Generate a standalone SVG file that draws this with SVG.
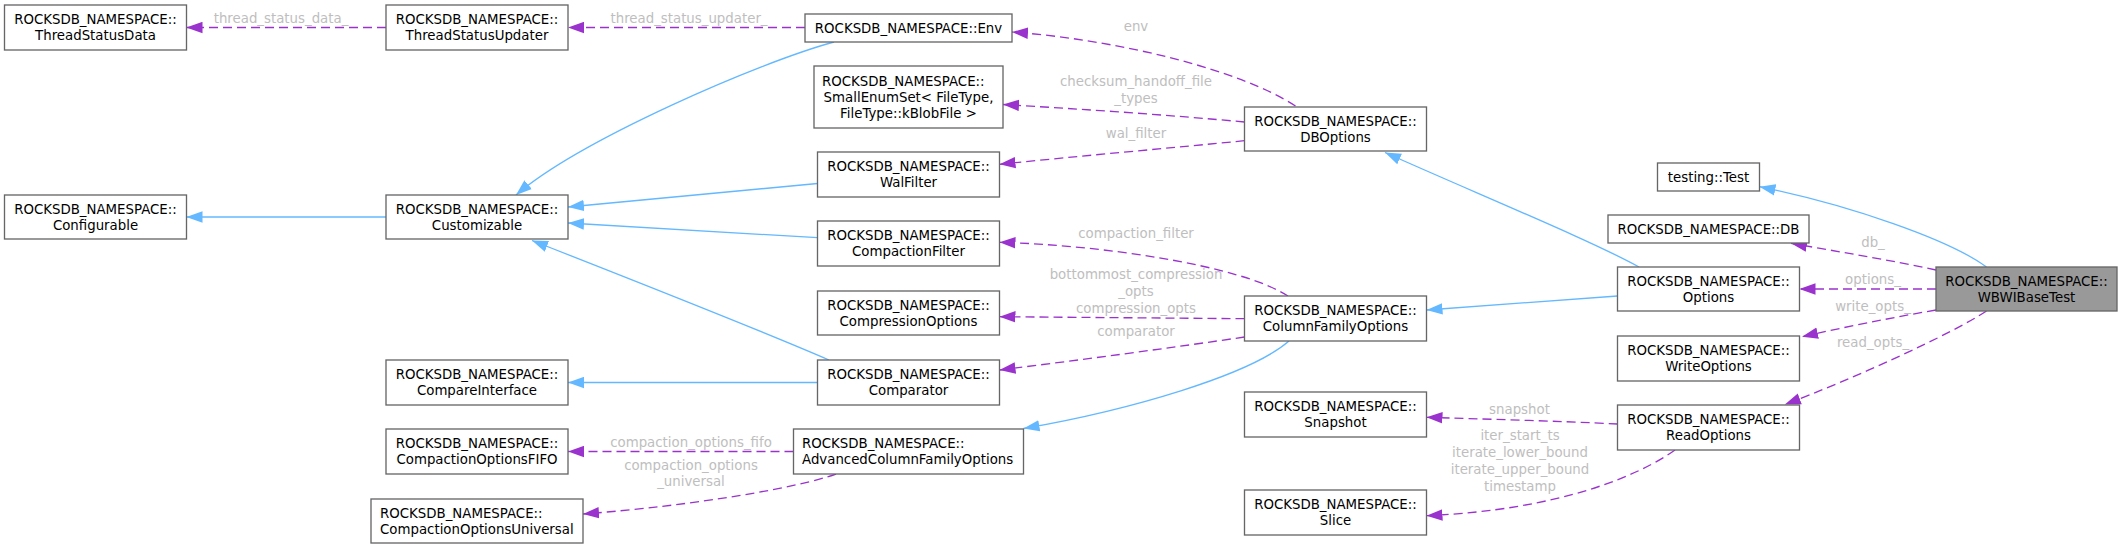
<svg xmlns="http://www.w3.org/2000/svg" width="2123" height="549" viewBox="0 0 2123 549">
<defs>
<style>
.n rect{fill:#ffffff;stroke:#666666;stroke-width:1.33}
.n.main rect{fill:#999999}
text{font-family:"DejaVu Sans","Liberation Sans",sans-serif;font-size:13.33px;fill:#000000}
.n text{text-anchor:middle}
.n text.l{text-anchor:start}
.lbl{fill:#bebebe;text-anchor:middle}
.inh{fill:none;stroke:#63b8ff;stroke-width:1.33;marker-end:url(#ab)}
.use{fill:none;stroke:#9a32cd;stroke-width:1.33;stroke-dasharray:9,5;marker-end:url(#ap)}
</style>
<marker id="ab" markerUnits="userSpaceOnUse" markerWidth="16" markerHeight="12" refX="14" refY="5" orient="auto" viewBox="0 0 14 10"><path d="M0,0 L14,5 L0,10 z" fill="#63b8ff"/></marker>
<marker id="ap" markerUnits="userSpaceOnUse" markerWidth="16" markerHeight="12" refX="14" refY="5" orient="auto" viewBox="0 0 14 10"><path d="M0,0 L14,5 L0,10 z" fill="#9a32cd"/></marker>
</defs>
<rect width="2123" height="549" fill="#ffffff"/>
<g id="connectors">
<path class="use" d="M386,27.5 L186.5,27.5"/>
<text class="lbl" x="281" y="23">thread_status_data_</text>
<path class="use" d="M805,27.5 L568,27.5"/>
<text class="lbl" x="689" y="23">thread_status_updater_</text>
<path class="inh" d="M834,42 C760,62 580,140 516,195"/>
<path class="inh" d="M817.5,183.5 L568,207"/>
<path class="inh" d="M817.5,237.7 L568,223"/>
<path class="inh" d="M829,360 C760,330 620,275 532,240.5"/>
<path class="inh" d="M817.5,382.5 L568,382.5"/>
<path class="inh" d="M386,217 L186.5,217"/>
<path class="use" d="M793.5,451.5 L568,451.5"/>
<text class="lbl" x="691" y="446.7">compaction_options_fifo</text>
<path class="use" d="M836,474 C800,487 700,505 583,514"/>
<text class="lbl" x="691" y="469.5">compaction_options</text>
<text class="lbl" x="691" y="486">_universal</text>
<path class="inh" d="M1289,341 C1250,375 1130,410 1023.5,428.5"/>
<path class="use" d="M1295.5,106 C1240,70 1120,40 1012,32"/>
<text class="lbl" x="1136" y="31">env</text>
<path class="use" d="M1244.5,122 C1170,115 1080,109 1003,104.5"/>
<text class="lbl" x="1136" y="86">checksum_handoff_file</text>
<text class="lbl" x="1136" y="102.7">_types</text>
<path class="use" d="M1244.5,140.7 C1170,148 1080,156 999.5,164.3"/>
<text class="lbl" x="1136" y="138.3">wal_filter</text>
<path class="use" d="M1288,296 C1240,265 1100,245 999.5,242.3"/>
<text class="lbl" x="1136" y="238.3">compaction_filter</text>
<path class="use" d="M1244.5,318.7 L999.5,316.7"/>
<text class="lbl" x="1136" y="278.7">bottommost_compression</text>
<text class="lbl" x="1136" y="295.5">_opts</text>
<text class="lbl" x="1136" y="312.5">compression_opts</text>
<path class="use" d="M1244.5,337 C1170,348 1080,360 999.5,370"/>
<text class="lbl" x="1136" y="336">comparator</text>
<path class="inh" d="M1639,267 C1590,240 1480,195 1385,152.5"/>
<path class="inh" d="M1617.5,296 L1426.5,310"/>
<path class="inh" d="M1986.5,267 C1950,240 1850,205 1759.5,186.7"/>
<path class="use" d="M1936,270 C1890,260 1840,252 1791,243.3"/>
<text class="lbl" x="1873" y="246.5">db_</text>
<path class="use" d="M1936,289 L1799.5,289"/>
<text class="lbl" x="1873" y="284">options_</text>
<path class="use" d="M1936,310 C1890,318 1845,327 1802,336.7"/>
<text class="lbl" x="1873" y="310.5">write_opts_</text>
<path class="use" d="M1986.5,311 C1950,335 1850,380 1784.8,404.5"/>
<text class="lbl" x="1873" y="347">read_opts_</text>
<path class="use" d="M1617.5,424 C1560,421 1480,419 1426.5,417.3"/>
<text class="lbl" x="1519.5" y="414">snapshot</text>
<path class="use" d="M1675,450 C1640,475 1560,510 1426.5,515.7"/>
<text class="lbl" x="1520" y="440">iter_start_ts</text>
<text class="lbl" x="1520" y="456.7">iterate_lower_bound</text>
<text class="lbl" x="1520" y="474">iterate_upper_bound</text>
<text class="lbl" x="1520" y="490.7">timestamp</text>
</g>
<g id="ThreadStatusData" class="n"><rect x="4.5" y="5" width="182" height="45"/><text x="95.5" y="24.2">ROCKSDB_NAMESPACE::</text><text x="95.5" y="40.2">ThreadStatusData</text></g>
<g id="Configurable" class="n"><rect x="4.5" y="195" width="182" height="44"/><text x="95.5" y="213.7">ROCKSDB_NAMESPACE::</text><text x="95.5" y="229.7">Configurable</text></g>
<g id="ThreadStatusUpdater" class="n"><rect x="386" y="5" width="182" height="45"/><text x="477" y="24.2">ROCKSDB_NAMESPACE::</text><text x="477" y="40.2">ThreadStatusUpdater</text></g>
<g id="Customizable" class="n"><rect x="386" y="195" width="182" height="44"/><text x="477" y="213.7">ROCKSDB_NAMESPACE::</text><text x="477" y="229.7">Customizable</text></g>
<g id="CompareInterface" class="n"><rect x="386" y="360" width="182" height="45"/><text x="477" y="379.2">ROCKSDB_NAMESPACE::</text><text x="477" y="395.2">CompareInterface</text></g>
<g id="CompactionOptionsFIFO" class="n"><rect x="386" y="429" width="182" height="45"/><text x="477" y="448.2">ROCKSDB_NAMESPACE::</text><text x="477" y="464.2">CompactionOptionsFIFO</text></g>
<g id="CompactionOptionsUniversal" class="n"><rect x="371" y="499" width="212" height="44"/><text class="l" x="380" y="517.7">ROCKSDB_NAMESPACE::</text><text class="l" x="380" y="533.7">CompactionOptionsUniversal</text></g>
<g id="Env" class="n"><rect x="805" y="14" width="207" height="28"/><text x="908.5" y="32.7">ROCKSDB_NAMESPACE::Env</text></g>
<g id="SmallEnumSet" class="n"><rect x="814" y="66" width="189" height="62"/><text class="l" x="822" y="85.7">ROCKSDB_NAMESPACE::</text><text x="908.5" y="101.7">SmallEnumSet&lt; FileType,</text><text x="908.5" y="117.7">FileType::kBlobFile &gt;</text></g>
<g id="WalFilter" class="n"><rect x="817.5" y="152" width="182" height="45"/><text x="908.5" y="171.2">ROCKSDB_NAMESPACE::</text><text x="908.5" y="187.2">WalFilter</text></g>
<g id="CompactionFilter" class="n"><rect x="817.5" y="221" width="182" height="45"/><text x="908.5" y="240.2">ROCKSDB_NAMESPACE::</text><text x="908.5" y="256.2">CompactionFilter</text></g>
<g id="CompressionOptions" class="n"><rect x="817.5" y="291" width="182" height="44"/><text x="908.5" y="309.7">ROCKSDB_NAMESPACE::</text><text x="908.5" y="325.7">CompressionOptions</text></g>
<g id="Comparator" class="n"><rect x="817.5" y="360" width="182" height="45"/><text x="908.5" y="379.2">ROCKSDB_NAMESPACE::</text><text x="908.5" y="395.2">Comparator</text></g>
<g id="AdvancedColumnFamilyOptions" class="n"><rect x="793.5" y="429" width="230" height="45"/><text class="l" x="802" y="448.2">ROCKSDB_NAMESPACE::</text><text class="l" x="802" y="464.2">AdvancedColumnFamilyOptions</text></g>
<g id="DBOptions" class="n"><rect x="1244.5" y="107" width="182" height="44"/><text x="1335.5" y="125.7">ROCKSDB_NAMESPACE::</text><text x="1335.5" y="141.7">DBOptions</text></g>
<g id="ColumnFamilyOptions" class="n"><rect x="1244.5" y="296" width="182" height="45"/><text x="1335.5" y="315.2">ROCKSDB_NAMESPACE::</text><text x="1335.5" y="331.2">ColumnFamilyOptions</text></g>
<g id="Snapshot" class="n"><rect x="1244.5" y="392" width="182" height="45"/><text x="1335.5" y="411.2">ROCKSDB_NAMESPACE::</text><text x="1335.5" y="427.2">Snapshot</text></g>
<g id="Slice" class="n"><rect x="1244.5" y="490" width="182" height="45"/><text x="1335.5" y="509.2">ROCKSDB_NAMESPACE::</text><text x="1335.5" y="525.2">Slice</text></g>
<g id="testingTest" class="n"><rect x="1657.5" y="163" width="102" height="28"/><text x="1708.5" y="181.7">testing::Test</text></g>
<g id="DB" class="n"><rect x="1608" y="215" width="201" height="28"/><text x="1708.5" y="233.7">ROCKSDB_NAMESPACE::DB</text></g>
<g id="Options" class="n"><rect x="1617.5" y="267" width="182" height="44"/><text x="1708.5" y="285.7">ROCKSDB_NAMESPACE::</text><text x="1708.5" y="301.7">Options</text></g>
<g id="WriteOptions" class="n"><rect x="1617.5" y="336" width="182" height="45"/><text x="1708.5" y="355.2">ROCKSDB_NAMESPACE::</text><text x="1708.5" y="371.2">WriteOptions</text></g>
<g id="ReadOptions" class="n"><rect x="1617.5" y="405" width="182" height="45"/><text x="1708.5" y="424.2">ROCKSDB_NAMESPACE::</text><text x="1708.5" y="440.2">ReadOptions</text></g>
<g id="WBWIBaseTest" class="n main"><rect x="1936" y="267" width="181" height="44"/><text x="2026.5" y="285.7">ROCKSDB_NAMESPACE::</text><text x="2026.5" y="301.7">WBWIBaseTest</text></g>
</svg>
